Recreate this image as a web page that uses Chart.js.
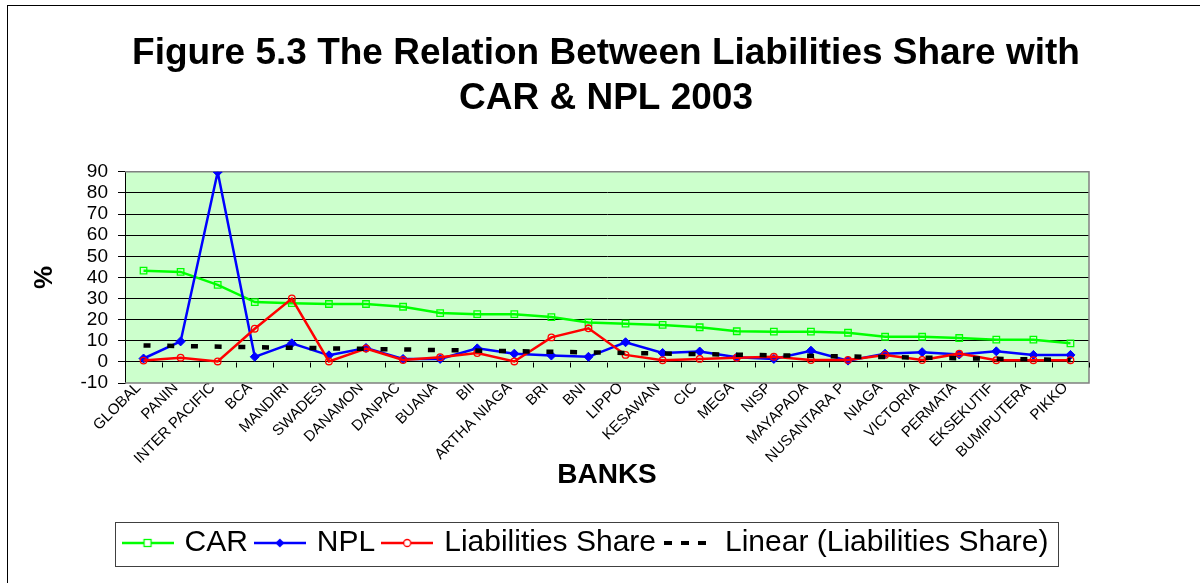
<!DOCTYPE html>
<html>
<head>
<meta charset="utf-8">
<title>Figure 5.3</title>
<script src="https://cdn.jsdelivr.net/npm/chart.js@4.4.1/dist/chart.umd.min.js"></script>
<style>
    body { margin: 0; background: #fff; }
    #wrap { width: 1200px; height: 583px; }
</style>
</head>
<body>
<div id="wrap"><canvas id="chart" width="1200" height="583"></canvas></div>
<script>
// ========== DATOS ==========
const banks = ['GLOBAL', 'PANIN', 'INTER PACIFIC', 'BCA', 'MANDIRI', 'SWADESI', 'DANAMON', 'DANPAC',
    'BUANA', 'BII', 'ARTHA NIAGA', 'BRI', 'BNI', 'LIPPO', 'KESAWAN', 'CIC', 'MEGA', 'NISP',
    'MAYAPADA', 'NUSANTARA P', 'NIAGA', 'VICTORIA', 'PERMATA', 'EKSEKUTIF', 'BUMIPUTERA', 'PIKKO'];

const car = [43.2, 42.6, 36.5, 28.3, 27.8, 27.4, 27.4, 26.1, 23.1, 22.6, 22.6, 21.2, 18.7, 18.1,
    17.5, 16.4, 14.5, 14.3, 14.3, 13.8, 11.9, 11.9, 11.3, 10.5, 10.5, 8.8];

const npl = [1.6, 9.7, 89.9, 2.4, 8.8, 3.1, 6.6, 1.4, 1.4, 6.4, 3.9, 3.0, 2.4, 9.3,
    4.2, 4.9, 2.2, 1.4, 5.3, 0.6, 3.9, 4.6, 3.5, 5.0, 3.3, 3.3];

const liabShare = [0.6, 2.0, 0.2, 15.7, 30.0, 0.2, 6.3, 0.9, 2.2, 4.2, 0.2, 11.6, 15.9, 3.3,
    0.8, 1.4, 2.0, 2.4, 0.9, 0.9, 3.3, 0.9, 3.9, 0.8, 0.8, 0.8];

const trendStart = 7.8;
const trendEnd = 0.9;

const yTicks = [-10, 0, 10, 20, 30, 40, 50, 60, 70, 80, 90];

const trend = banks.map((b, i) => i === 0 ? trendStart : (i === banks.length - 1 ? trendEnd : null));

// ========== ICONOS DE LEYENDA ==========
function legendIcon(color, marker, dashed) {
    const c = document.createElement('canvas');
    c.width = 52; c.height = 16;
    const g = c.getContext('2d');
    g.strokeStyle = color;
    if (dashed) {
        g.lineWidth = 4;
        g.setLineDash([8, 9]);
        g.beginPath(); g.moveTo(2, 8); g.lineTo(52, 8); g.stroke();
        return c;
    }
    g.lineWidth = 2.5;
    g.beginPath(); g.moveTo(0, 8); g.lineTo(52, 8); g.stroke();
    g.lineWidth = 1.3;
    if (marker === 'square') {
        g.fillStyle = '#fff';
        g.fillRect(22.5, 4.5, 7, 7);
        g.strokeRect(22.5, 4.5, 7, 7);
    } else if (marker === 'diamond') {
        g.fillStyle = color;
        g.beginPath(); g.moveTo(26, 3.5); g.lineTo(30.5, 8); g.lineTo(26, 12.5); g.lineTo(21.5, 8); g.closePath(); g.fill();
    } else if (marker === 'circle') {
        g.fillStyle = '#fff';
        g.beginPath(); g.arc(26, 8, 3.5, 0, Math.PI * 2); g.fill(); g.stroke();
    }
    return c;
}
const icons = [
    legendIcon('#00ff00', 'square'),
    legendIcon('#0000ff', 'diamond'),
    legendIcon('#ff0000', 'circle'),
    legendIcon('#000', null, true)
];

// ========== DECORADO ==========
const LEGEND_SHIFT = -19;
const decor = {
    id: 'decor',
    afterLayout(chart) {
        chart.legend.left += LEGEND_SHIFT;
        chart.legend.right += LEGEND_SHIFT;
    },
    beforeDraw(chart) {
        const { ctx, chartArea: a } = chart;
        ctx.save();
        ctx.fillStyle = '#ccffcc';
        ctx.fillRect(a.left, a.top, a.right - a.left, a.bottom - a.top);
        ctx.restore();
    },
    beforeDatasetsDraw(chart) {
        const { ctx, chartArea: a, scales } = chart;
        ctx.save();
        // borde gris del area de trazado
        ctx.strokeStyle = '#808080';
        ctx.lineWidth = 1.5;
        ctx.beginPath();
        ctx.moveTo(a.left, a.top); ctx.lineTo(a.right, a.top);
        ctx.lineTo(a.right, a.bottom); ctx.lineTo(a.left, a.bottom);
        ctx.stroke();
        // marcas del eje X sobre la linea 0
        const y0 = Math.round(scales.y.getPixelForValue(0)) + 0.5;
        const step = (a.right - a.left) / banks.length;
        ctx.strokeStyle = '#000';
        ctx.lineWidth = 1;
        ctx.beginPath();
        for (let i = 0; i <= banks.length; i++) {
            const x = Math.round(a.left + i * step) + 0.5;
            ctx.moveTo(x, y0); ctx.lineTo(x, y0 + 5);
        }
        ctx.stroke();
        ctx.restore();
    },
    afterDraw(chart) {
        const { ctx, legend } = chart;
        ctx.save();
        ctx.strokeStyle = '#000';
        ctx.lineWidth = 1;
        ctx.strokeRect(7.5, 5.5, 1400, 800);
        // caja de la leyenda
        const pad = legend.options.labels.padding;
        const lw = legend.lineWidths[0];
        const start = (legend.left + pad + legend.right - lw) / 2;
        const bx = Math.round(start - 4 - 7) + 0.5;
        const br = Math.round(start + lw - pad + 10) + 0.5;
        ctx.strokeStyle = '#404040';
        ctx.strokeRect(bx, legend.top + 4.5, br - bx, legend.bottom - legend.top - 6);
        ctx.restore();
    }
};

// ========== GRAFICO ==========
const ctx = document.getElementById('chart').getContext('2d');
new Chart(ctx, {
    type: 'line',
    data: {
        labels: banks,
        datasets: [
            { label: 'CAR', data: car, borderColor: '#00ff00', backgroundColor: 'rgba(0,0,0,0)',
              borderWidth: 2.5, pointStyle: 'rect', pointRadius: 4.6, pointBorderWidth: 1.3,
              pointBorderColor: '#00ff00', pointBackgroundColor: 'rgba(0,0,0,0)', order: 4 },
            { label: 'NPL', data: npl, borderColor: '#0000ff', backgroundColor: '#0000ff',
              borderWidth: 2.5, pointStyle: 'rectRot', pointRadius: 4.5, pointBorderWidth: 1,
              pointBorderColor: '#0000ff', pointBackgroundColor: '#0000ff', order: 3 },
            { label: 'Liabilities Share', data: liabShare, borderColor: '#ff0000', backgroundColor: 'rgba(0,0,0,0)',
              borderWidth: 2.5, pointStyle: 'circle', pointRadius: 3.3, pointBorderWidth: 1.3,
              pointBorderColor: '#ff0000', pointBackgroundColor: 'rgba(0,0,0,0)', order: 2 },
            { label: 'Linear (Liabilities Share)', data: trend, borderColor: '#000', backgroundColor: '#000',
              borderWidth: 4.5, borderDash: [7, 16.7], borderCapStyle: 'butt', pointRadius: 0,
              spanGaps: true, order: 1 }
        ]
    },
    options: {
        responsive: false,
        animation: false,
        layout: { padding: { left: 12, right: 0, top: 8, bottom: 15 } },
        plugins: {
            tooltip: { enabled: false },
            title: {
                display: true,
                text: ['Figure 5.3 The Relation Between Liabilities Share with', 'CAR & NPL 2003'],
                color: '#000',
                font: { family: 'Liberation Sans, Arial, sans-serif', size: 37, weight: 'bold', lineHeight: 1.2 },
                padding: { top: 24, bottom: 51 }
            },
            legend: {
                position: 'bottom',
                labels: {
                    color: '#000',
                    font: { family: 'Liberation Sans, Arial, sans-serif', size: 30 },
                    padding: 10,
                    usePointStyle: true,
                    pointStyleWidth: 44,
                    sort: (a, b) => a.datasetIndex - b.datasetIndex,
                    generateLabels(chart) {
                        const items = Chart.defaults.plugins.legend.labels.generateLabels(chart);
                        items.forEach(it => { it.pointStyle = icons[it.datasetIndex]; });
                        return items;
                    }
                }
            }
        },
        scales: {
            x: {
                offset: true,
                grid: { display: false, offset: true },
                border: { display: false },
                ticks: {
                    autoSkip: false, maxRotation: 45, minRotation: 45, padding: -12, labelOffset: -5,
                    color: '#000',
                    font: { family: 'Liberation Sans, Arial, sans-serif', size: 15 }
                },
                title: {
                    display: true, text: 'BANKS', color: '#000',
                    font: { family: 'Liberation Sans, Arial, sans-serif', size: 28, weight: 'bold', lineHeight: 1.2 },
                    padding: { top: 0, bottom: 26 }
                },
                afterFit: s => { s.height = 135; }
            },
            y: {
                min: yTicks[0], max: yTicks[yTicks.length - 1],
                afterBuildTicks: s => { s.ticks = yTicks.map(v => ({ value: v })); },
                grid: {
                    color: c => (c.tick && (c.tick.value === -10 || c.tick.value === 90)) ? 'rgba(0,0,0,0)' : '#000',
                    tickColor: '#000', tickLength: 7, lineWidth: 1
                },
                border: { display: true, color: '#000', width: 1 },
                ticks: {
                    autoSkip: false, padding: 10, color: '#000',
                    font: { family: 'Liberation Sans, Arial, sans-serif', size: 19 }
                },
                title: {
                    display: true, text: '%', color: '#000',
                    font: { family: 'Liberation Sans, Arial, sans-serif', size: 26, weight: 'bold', lineHeight: 1.2 },
                    padding: { top: 17, bottom: 0 }
                },
                afterFit: s => { s.width = 113; }
            },
            y2: {
                position: 'right',
                display: true,
                grid: { display: false, drawTicks: false },
                border: { display: false },
                ticks: { display: false },
                afterFit: s => { s.width = 111; }
            }
        }
    },
    plugins: [decor]
});
</script>
</body>
</html>
